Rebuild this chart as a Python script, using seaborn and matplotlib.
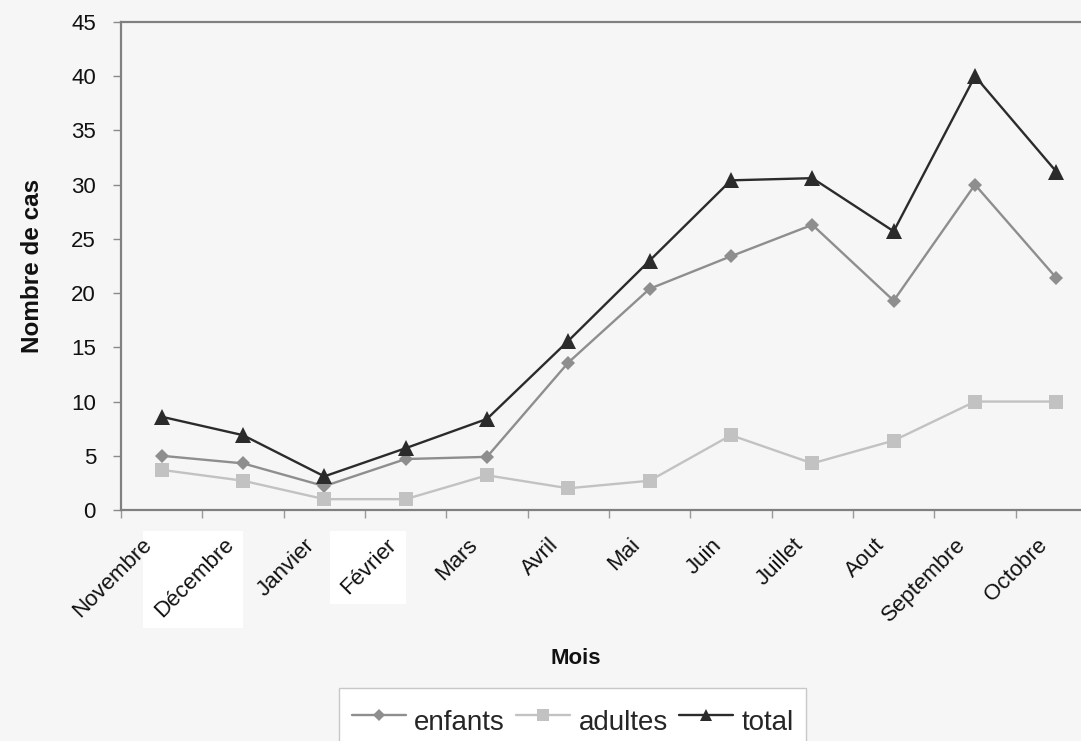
import numpy as np
import pandas as pd
import matplotlib
matplotlib.use("Agg")
import matplotlib.pyplot as plt
from matplotlib.patches import Rectangle
from matplotlib.transforms import IdentityTransform, ScaledTranslation
import seaborn as sns

# Monthly case counts
mois = ["Novembre", "Décembre", "Janvier", "Février", "Mars", "Avril",
        "Mai", "Juin", "Juillet", "Aout", "Septembre", "Octobre"]
enfants = [5.0, 4.3, 2.2, 4.7, 4.9, 13.6, 20.4, 23.4, 26.3, 19.3, 30.0, 21.4]
adultes = [3.7, 2.7, 1.0, 1.0, 3.2, 2.0, 2.7, 6.9, 4.3, 6.4, 10.0, 10.0]
total = [8.6, 6.9, 3.1, 5.7, 8.4, 15.6, 23.0, 30.4, 30.6, 25.7, 40.0, 31.2]
y_ticks = [0, 5, 10, 15, 20, 25, 30, 35, 40, 45]

sns.set_style("white")
plt.rcParams["font.family"] = ["Liberation Sans", "DejaVu Sans"]

bg = "#f6f6f6"
W, H = 1081, 741
fig = plt.figure(figsize=(W / 100, H / 100), dpi=100, facecolor=bg)
ax = fig.add_axes([121 / W, 1 - 510 / H, 976 / W, 488 / H])
ax.set_facecolor(bg)

df = pd.DataFrame({"Mois": mois, "enfants": enfants,
                   "adultes": adultes, "total": total})

styles = [
    ("enfants", "#8e8e8e", "D", 7.4),
    ("adultes", "#c2c2c2", "s", 10),
    ("total", "#2b2b2b", "^", 11),
]
for name, color, marker, ms in styles:
    sns.lineplot(data=df, x="Mois", y=name, ax=ax, color=color,
                 marker=marker, markersize=ms, markeredgecolor=color,
                 markeredgewidth=0, linewidth=1.7, label=name, sort=False)

ax.set_xlim(-0.5, 11.5)
ax.set_ylim(0, 45)
ax.set_yticks(y_ticks)
ax.set_xticks(range(len(mois)))
ax.set_xticklabels(mois)
ax.set_xticks(np.arange(-0.5, len(mois), 1), minor=True)

ax.tick_params(axis="both", which="both", bottom=True, left=True)
ax.tick_params(axis="x", which="major", length=0, pad=23, labelsize=16,
               labelcolor="#111111")
ax.tick_params(axis="x", which="minor", length=6, width=1,
               color="#9a9a9a", direction="out")
ax.tick_params(axis="y", length=6, width=1, color="#8a8a8a", pad=12,
               labelsize=16, labelcolor="#111111")

shift = ScaledTranslation(-9 / 72, 0, fig.dpi_scale_trans)
for lab in ax.get_xticklabels():
    lab.set_rotation(45)
    lab.set_ha("right")
    lab.set_va("center")
    lab.set_rotation_mode("anchor")
    lab.set_transform(lab.get_transform() + shift)

for side, spine in ax.spines.items():
    spine.set_visible(True)
    spine.set_color("#808080")
    spine.set_linewidth(1.6)

ax.set_xlabel("Mois", fontsize=16, fontweight="bold", color="#111111")
ax.xaxis.set_label_coords(0.466, -0.283)
ax.set_ylabel("Nombre de cas", fontsize=17.5, fontweight="bold", color="#111111")
ax.yaxis.set_label_coords(-0.079, 0.5)

leg = ax.legend(loc="upper center", bbox_to_anchor=(572.5 / W, 1 - 688 / H),
                bbox_transform=fig.transFigure, borderaxespad=0, ncol=3,
                fontsize=20, frameon=True, fancybox=False, edgecolor="#c8c8c8",
                facecolor="white", framealpha=1, handlelength=1.95,
                handleheight=1.9, handletextpad=0.3, columnspacing=0.4,
                borderpad=0.45, markerscale=0.85)
leg.get_frame().set_linewidth(1)

# White backing behind two of the month labels
fig.canvas.draw()
renderer = fig.canvas.get_renderer()
for lab in ax.get_xticklabels():
    if lab.get_text() in ("Décembre", "Février"):
        bb = lab.get_window_extent(renderer)
        ax.add_patch(Rectangle((bb.x0 - 7, bb.y0 - 6), bb.width + 12,
                               bb.height + 10, transform=IdentityTransform(),
                               facecolor="white", edgecolor="none",
                               clip_on=False, zorder=0.3))

fig.savefig("out.png", dpi=100, facecolor=bg)
